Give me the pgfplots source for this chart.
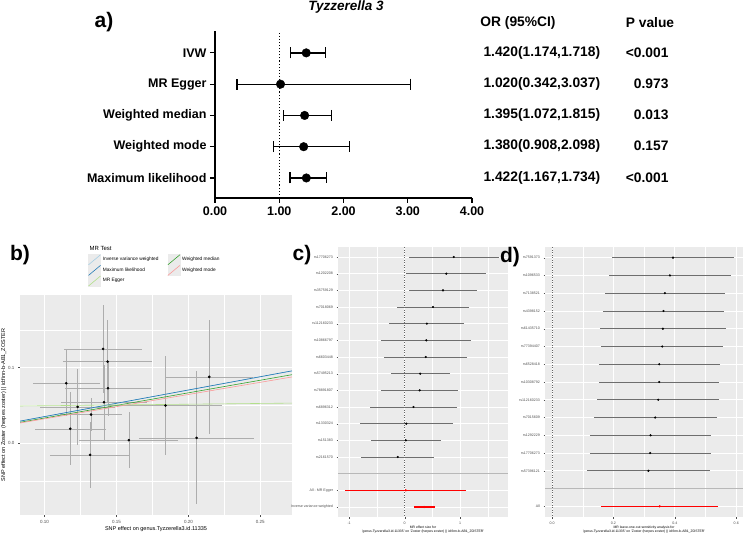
\documentclass[border=0pt]{standalone}
\usepackage{pgfplots}
\pgfplotsset{compat=1.18}
\usepackage{pgfplotstable}
\usepackage{fontspec}
\setmainfont{Liberation Sans}
\definecolor{panelbg}{HTML}{EBEBEB}
\definecolor{ivw}{HTML}{A6CEE3}
\definecolor{ml}{HTML}{1F78B4}
\definecolor{egger}{HTML}{B2DF8A}
\definecolor{wmed}{HTML}{33A02C}
\definecolor{wmode}{HTML}{FB9A99}
\definecolor{cigray}{HTML}{6E6E6E}
\definecolor{txtgray}{HTML}{4D4D4D}

\pgfplotstableread{
y or ep em
5 1.420 0.298 0.246
4 1.020 2.017 0.678
3 1.395 0.420 0.323
2 1.380 0.718 0.472
1 1.422 0.312 0.255
}\tabA

\pgfplotstableread{
x y xe ye
0.1407 0.1247 0.027 0.058
0.1439 0.1079 0.031 0.055
0.1152 0.0793 0.0233 0.0437
0.1441 0.0727 0.030 0.0365
0.2145 0.0877 0.0305 0.075
0.1230 0.0480 0.026 0.0505
0.1414 0.0542 0.030 0.0495
0.1324 0.0379 0.0213 0.022
0.1179 0.0190 0.0247 0.0484
0.1586 0.0040 0.0345 0.0373
0.1841 0.0498 0.039 0.066
0.2057 0.0070 0.040 0.088
0.1317 -0.0154 0.0279 0.0437
}\tabB

\pgfplotstableread{
y b e
1 0.883 0.81
2 0.750 0.72
3 0.690 0.605
4 0.510 0.655
5 0.400 0.675
6 0.390 0.81
7 0.380 0.75
8 0.280 0.53
9 0.270 0.695
10 0.160 0.78
11 0.030 0.84
12 0.020 0.635
13 -0.125 0.655
}\tabC

\pgfplotstableread{
y b e
15 0.0198 1.092
16 0.3507 0.1903
}\tabCs

\pgfplotstableread{
y b e
1 0.394 0.199
2 0.384 0.200
3 0.3675 0.196
4 0.363 0.198
5 0.361 0.205
6 0.359 0.199
7 0.349 0.197
8 0.349 0.196
9 0.346 0.199
10 0.336 0.200
11 0.321 0.198
12 0.3195 0.197
13 0.314 0.201
}\tabD

\pgfplotstableread{
y b e
15 0.3507 0.1903
}\tabDs

\begin{document}
\begin{tikzpicture}
\useasboundingbox (0pt,0pt) rectangle (745pt,536pt);

% ---------------- panel a ----------------
\begin{axis}[at={(215pt,505pt)}, anchor=north west, scale only axis,
  width=257pt, height=167pt,
  xmin=0, xmax=4, ymin=0.36, ymax=5.70,
  axis x line*=bottom, axis y line*=left,
  axis line style={line width=1.2pt, black},
  xtick={0,1,2,3,4}, xticklabels={0.00,1.00,2.00,3.00,4.00},
  ytick={1,2,3,4,5},
  yticklabels={Maximum likelihood,Weighted mode,Weighted median,MR Egger,IVW},
  tick align=outside, major tick length=5pt,
  tick style={line width=1.2pt, black},
  tick label style={font=\fontsize{12.5}{14}\selectfont\bfseries},
  clip=false]
\addplot[black, dotted, line width=1.1pt] coordinates {(1,0.36) (1,5.70)};
\addplot[black, only marks, mark=*, mark size=4.3pt,
  error bars/.cd, x dir=both, x explicit, error mark=|,
  error mark options={mark size=5.5pt, line width=1.2pt},
  error bar style={line width=1.3pt}]
  table[x=or, y=y, x error plus=ep, x error minus=em]{\tabA};
\end{axis}

\node[font=\fontsize{13.5}{15}\selectfont\bfseries\itshape] at (346pt,529pt) {Tyzzerella 3};
\node[font=\fontsize{21}{24}\selectfont\bfseries] at (104pt,514pt) {a)};
\begin{scope}[every node/.style={font=\fontsize{13.8}{15}\selectfont\bfseries}]
\node at (518pt,513pt) {OR (95\%CI)};
\node at (650pt,513pt) {P value};
\node[anchor=west] at (480pt,483pt) {1.420(1.174,1.718)};
\node[anchor=west] at (480pt,452pt) {1.020(0.342,3.037)};
\node[anchor=west] at (480pt,421pt) {1.395(1.072,1.815)};
\node[anchor=west] at (480pt,390pt) {1.380(0.908,2.098)};
\node[anchor=west] at (480pt,358pt) {1.422(1.167,1.734)};
\node[anchor=east] at (672pt,483pt) {<0.001};
\node[anchor=east] at (672pt,452pt) {0.973};
\node[anchor=east] at (672pt,421pt) {0.013};
\node[anchor=east] at (672pt,390pt) {0.157};
\node[anchor=east] at (672pt,358pt) {<0.001};
\end{scope}

% ---------------- panel b ----------------
\begin{axis}[at={(20pt,241pt)}, anchor=north west, scale only axis,
  width=272pt, height=220pt,
  xmin=0.083, xmax=0.272, ymin=-0.095, ymax=0.196,
  axis background/.style={fill=panelbg},
  axis line style={draw=none},
  xtick={0.10,0.15,0.20,0.25}, xticklabels={0.10,0.15,0.20,0.25},
  ytick={0,0.1}, yticklabels={0.0,0.1},
  minor xtick={0.125,0.175,0.225}, minor ytick={-0.05,0.05,0.15},
  grid=both, major grid style={white, line width=0.9pt},
  minor grid style={white, line width=0.45pt},
  tick pos=left, tick align=outside, major tick length=2pt, minor tick length=0pt,
  tick style={txtgray, line width=0.4pt},
  tick label style={font=\fontsize{4.5}{5}\selectfont, text=txtgray},
  xlabel={SNP effect on genus.Tyzzerella3.id.11335},
  ylabel={SNP effect on Zoster (herpes zoster) || id:finn-b-AB1\_ZOSTER},
  label style={font=\fontsize{5.5}{6}\selectfont},
  xlabel style={yshift=4pt}, ylabel style={yshift=-5pt},
  legend columns=2, legend cell align=left,
  legend style={at={(0.25,1.185)}, anchor=north west, draw=none, fill=none,
    font=\fontsize{4.8}{5}\selectfont, inner sep=0pt, row sep=0pt,
    /tikz/every even column/.append style={column sep=7pt}},
  legend image code/.code={\fill[panelbg] (0pt,-5pt) rectangle (12pt,5pt);
    \draw[#1] (0pt,-5pt) -- (12pt,5pt);},
  clip=true]
\addplot[black, only marks, mark=*, mark size=1.1pt, forget plot,
  error bars/.cd, x dir=both, x explicit, y dir=both, y explicit, error mark=none,
  error bar style={black!32, line width=0.55pt}]
  table[x=x, y=y, x error=xe, y error=ye]{\tabB};
\addplot[ivw, line width=0.6pt] coordinates {(0.083,0.0291) (0.272,0.0954)};
\addlegendentry{Inverse variance weighted}
\addplot[wmed, line width=0.6pt] coordinates {(0.083,0.0276) (0.272,0.0906)};
\addlegendentry{Weighted median}
\addplot[ml, line width=0.6pt] coordinates {(0.083,0.0292) (0.272,0.0957)};
\addlegendentry{Maximum likelihood}
\addplot[wmode, line width=0.6pt] coordinates {(0.083,0.0267) (0.272,0.0876)};
\addlegendentry{Weighted mode}
\addplot[egger, line width=0.6pt] coordinates {(0.083,0.0492) (0.272,0.0530)};
\addlegendentry{MR Egger}
\end{axis}
\node[anchor=west, font=\fontsize{6}{7}\selectfont] at (86pt,288pt) {MR Test};
\node[font=\fontsize{21}{24}\selectfont\bfseries] at (20pt,281pt) {b)};

% ---------------- panel c ----------------
\begin{axis}[at={(338pt,289pt)}, anchor=north west, scale only axis,
  width=170pt, height=270pt,
  xmin=-1.2, xmax=1.86, ymin=0.4, ymax=16.6, y dir=reverse,
  axis background/.style={fill=panelbg},
  axis line style={draw=none},
  xtick={-1,0,1}, xticklabels={-1,0,1}, minor xtick={-0.5,0.5,1.5},
  ytick={1,2,3,4,5,6,7,8,9,10,11,12,13,15,16},
  yticklabels={rs17706273,rs1202208,rs35759129,rs7018069,rs112160233,rs10866797,rs6603448,rs57495213,rs78891807,rs6896312,rs1330324,rs151383,rs2161570,All - MR Egger,Inverse variance weighted},
  grid=both, major grid style={white, line width=0.8pt},
  minor grid style={white, line width=0.4pt},
  tick pos=left, tick align=outside, major tick length=1.5pt, minor tick length=0pt,
  tick style={txtgray, line width=0.3pt},
  tick label style={font=\fontsize{3.6}{4}\selectfont, text=txtgray},
  xlabel={MR effect size for\\'genus.Tyzzerella3.id.11335' on 'Zoster (herpes zoster) || id:finn-b-AB1\_ZOSTER'},
  xlabel style={align=center, font=\fontsize{3.4}{3.8}\selectfont, yshift=5pt},
  clip=true]
\addplot[black!28, line width=1pt] coordinates {(-1.2,14) (1.86,14)};
\addplot[black!60, dotted, line width=0.5pt] coordinates {(0,0.4) (0,16.6)};
\addplot[black, only marks, mark=*, mark size=0.9pt,
  error bars/.cd, x dir=both, x explicit, error mark=none,
  error bar style={cigray, line width=0.7pt}]
  table[x=b, y=y, x error=e]{\tabC};
\addplot[red, only marks, mark=*, mark size=0.9pt,
  error bars/.cd, x dir=both, x explicit, error mark=none,
  error bar style={red, line width=1.3pt}]
  table[x=b, y=y, x error=e]{\tabCs};
\end{axis}
\node[font=\fontsize{21}{24}\selectfont\bfseries] at (302pt,281pt) {c)};

% ---------------- panel d ----------------
\begin{axis}[at={(545pt,289pt)}, anchor=north west, scale only axis,
  width=198pt, height=270pt,
  xmin=-0.023, xmax=0.622, ymin=0.4, ymax=15.6, y dir=reverse,
  axis background/.style={fill=panelbg},
  axis line style={draw=none},
  xtick={0,0.2,0.4,0.6}, xticklabels={0.0,0.2,0.4,0.6}, minor xtick={0.1,0.3,0.5},
  ytick={1,2,3,4,5,6,7,8,9,10,11,12,13,15},
  yticklabels={rs7591373,rs1096533,rs7138521,rs4398152,rs61435710,rs77394407,rs6528418,rs10308792,rs112160233,rs7015609,rs1292229,rs17706273,rs57396121,All},
  grid=both, major grid style={white, line width=0.8pt},
  minor grid style={white, line width=0.4pt},
  tick pos=left, tick align=outside, major tick length=1.5pt, minor tick length=0pt,
  tick style={txtgray, line width=0.3pt},
  tick label style={font=\fontsize{3.6}{4}\selectfont, text=txtgray},
  xlabel={MR leave-one-out sensitivity analysis for\\'genus.Tyzzerella3.id.11335' on 'Zoster (herpes zoster) || id:finn-b-AB1\_ZOSTER'},
  xlabel style={align=center, font=\fontsize{3.4}{3.8}\selectfont, yshift=5pt},
  clip=true]
\addplot[black!28, line width=1pt] coordinates {(-0.023,14) (0.622,14)};
\addplot[black!60, dotted, line width=0.5pt] coordinates {(0,0.4) (0,15.6)};
\addplot[black, only marks, mark=*, mark size=0.9pt,
  error bars/.cd, x dir=both, x explicit, error mark=none,
  error bar style={cigray, line width=0.7pt}]
  table[x=b, y=y, x error=e]{\tabD};
\addplot[red, only marks, mark=*, mark size=0.9pt,
  error bars/.cd, x dir=both, x explicit, error mark=none,
  error bar style={red, line width=1.3pt}]
  table[x=b, y=y, x error=e]{\tabDs};
\end{axis}
\node[font=\fontsize{21}{24}\selectfont\bfseries] at (510pt,279pt) {d)};
\end{tikzpicture}
\end{document}
